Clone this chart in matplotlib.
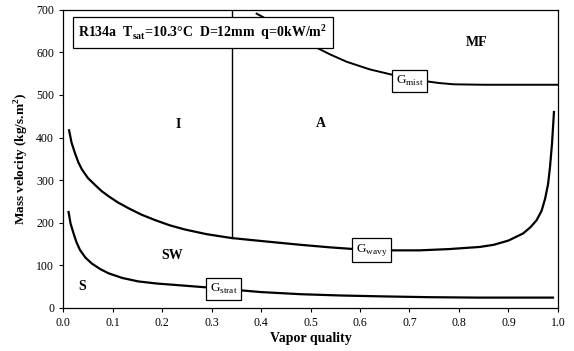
import matplotlib
matplotlib.use('Agg')
import matplotlib.pyplot as plt

plt.rcParams['font.family'] = ['Liberation Serif', 'DejaVu Serif']
plt.rcParams['mathtext.fontset'] = 'custom'
plt.rcParams['mathtext.rm'] = 'Liberation Serif'
plt.rcParams['mathtext.bf'] = 'Liberation Serif:bold'

# Кривые переходов
x_wavy = [0.012, 0.017, 0.024, 0.031, 0.038, 0.05, 0.065, 0.078, 0.092, 0.11, 0.132, 0.158,
          0.186, 0.215, 0.246, 0.29, 0.34, 0.40, 0.48, 0.54, 0.60, 0.66, 0.72, 0.78,
          0.842, 0.87, 0.90, 0.93, 0.945, 0.957, 0.967, 0.974, 0.98, 0.984, 0.988, 0.992]
y_wavy = [417, 388, 363, 341, 325, 305, 288, 274, 262, 248, 234, 219,
          206, 194, 184, 173, 164, 157, 148, 142, 137, 135, 135, 138,
          143, 148, 158, 175, 190, 206, 228, 256, 290, 331, 385, 460]

x_strat = [0.011, 0.015, 0.021, 0.027, 0.034, 0.045, 0.058, 0.075, 0.092, 0.12, 0.152, 0.19,
           0.246, 0.29, 0.34, 0.40, 0.48, 0.56, 0.64, 0.74, 0.84, 0.92, 0.99]
y_strat = [225, 198, 175, 154, 136, 118, 104, 91, 81, 70, 62, 57,
           52, 48, 43, 37, 32, 29, 27, 25, 24, 24, 24]

x_mist = [0.391, 0.404, 0.43, 0.46, 0.509, 0.54, 0.573, 0.62, 0.667, 0.70, 0.735, 0.76, 0.79, 0.85, 0.92, 1.0]
y_mist = [691, 683, 664, 643, 613, 595, 578, 560, 547, 538, 532, 528, 525, 524, 524, 524]

# граница I / A
x_ia = [0.341, 0.341]
y_ia = [700, 164]

# подписи областей
regions = ['I', 'A', 'MF', 'SW', 'S']
reg_x = [0.232, 0.52, 0.836, 0.22, 0.038]
reg_y = [430, 434, 624, 124, 49]

fig = plt.figure(figsize=(5.74, 3.51), dpi=100)
ax = fig.add_axes([0.110, 0.123, 0.862, 0.849])

ax.plot(x_wavy, y_wavy, color='black', lw=1.6)
ax.plot(x_strat, y_strat, color='black', lw=1.6)
ax.plot(x_mist, y_mist, color='black', lw=1.4)
ax.plot(x_ia, y_ia, color='black', lw=1.0)

for name, rx, ry in zip(regions, reg_x, reg_y):
    ax.text(rx, ry, name, fontsize=10, fontweight='bold', ha='center', va='center')

box = dict(boxstyle='square,pad=0.3', fc='white', ec='black', lw=0.9)
ax.text(0.623, 136, r'G$_{\mathregular{wavy}}$', fontsize=9.5, ha='center', va='center', bbox=box, zorder=5)
ax.text(0.324, 44, r'G$_{\mathregular{strat}}$', fontsize=9.5, ha='center', va='center', bbox=box, zorder=5)
ax.text(0.70, 532, r'G$_{\mathregular{mist}}$', fontsize=9.5, ha='center', va='center', bbox=box, zorder=5)

ax.text(0.031, 647, r'R134a  T$_{\mathbf{sat}}$=10.3°C  D=12mm  q=0kW/m$^{\mathbf{2}}$',
        fontsize=10, fontweight='bold', ha='left', va='center',
        bbox=dict(boxstyle='square,pad=0.4', fc='white', ec='black', lw=0.9), zorder=6)

ax.set_xlim(0, 1.0)
ax.set_ylim(0, 700)
ax.set_xticks([0.0, 0.1, 0.2, 0.3, 0.4, 0.5, 0.6, 0.7, 0.8, 0.9, 1.0])
ax.set_xticklabels(['0.0', '0.1', '0.2', '0.3', '0.4', '0.5', '0.6', '0.7', '0.8', '0.9', '1.0'])
ax.set_yticks([0, 100, 200, 300, 400, 500, 600, 700])
ax.tick_params(labelsize=8.5, length=3, width=0.8, direction='out')
ax.set_xlabel('Vapor quality', fontsize=10, fontweight='bold', labelpad=2)
ax.set_ylabel(r'Mass velocity (kg/s.m$^{\mathbf{2}}$)', fontsize=9.5, fontweight='bold', labelpad=4)
for s in ax.spines.values():
    s.set_linewidth(0.9)

fig.savefig('out.png', dpi=100)
